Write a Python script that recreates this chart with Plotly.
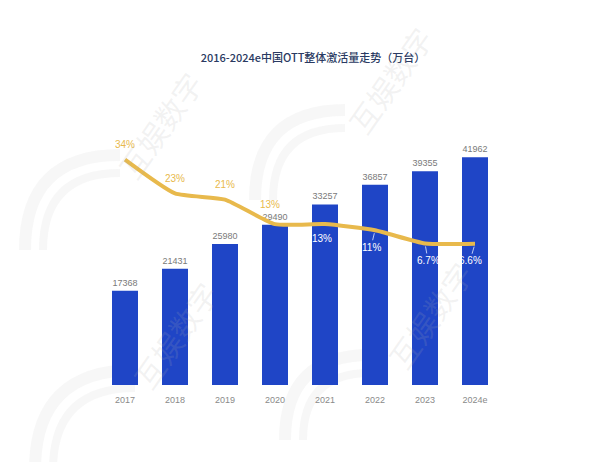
import plotly.graph_objects as go

# Activated OTT devices in China (10k units) and year-over-year growth
years = ["2017", "2018", "2019", "2020", "2021", "2022", "2023", "2024e"]
volumes = [17368, 21431, 25980, 29490, 33257, 36857, 39355, 41962]
growth = [34, 23, 21, 13, 13, 11, 6.7, 6.6]
growth_labels = ["34%", "23%", "21%", "13%", "13%", "11%", "6.7%", "6.6%"]

bar_color = "#1f45c6"
line_color = "#e8b94c"

W, H = 600, 462
L, R, T, B = 100, 100, 140, 77


def px_to_paper(px, py):
    return (px - L) / (W - L - R), (H - B - py) / (H - T - B)


fig = go.Figure()

fig.add_trace(go.Bar(
    x=years, y=volumes, width=0.52,
    marker=dict(color=bar_color, line=dict(width=0)),
    text=[str(v) for v in volumes], textposition="outside",
    textfont=dict(size=9, color="#7a7a7a", family="Liberation Sans Narrow, Liberation Sans"),
    cliponaxis=False, yaxis="y",
))

fig.add_trace(go.Scatter(
    x=years, y=growth, mode="lines",
    line=dict(color=line_color, width=4, shape="spline", smoothing=0.5),
    cliponaxis=False, yaxis="y2", hoverinfo="skip",
))

# growth labels: gold above the curve for early years, white with leaders inside later bars
# (category axis positions are given as the category index)
for i, (g, lab) in enumerate(zip(growth, growth_labels)):
    if i < 4:
        fig.add_annotation(
            x=i, y=g, xref="x", yref="y2", text=lab, showarrow=False,
            yshift=20 if i == 3 else 15, xshift=-5 if i == 3 else 0,
            font=dict(size=10, color=line_color, family="Liberation Sans Narrow, Liberation Sans"),
        )
    else:
        ax_off = [0, -4, 3, -5][i - 4]
        fig.add_annotation(
            x=i, y=g, xref="x", yref="y2", text=lab,
            showarrow=(i > 4), arrowhead=0, arrowwidth=0.8, arrowcolor="#e6ecff",
            ax=ax_off, ay=17, standoff=3,
            yshift=0 if i > 4 else -14, xshift=-3 if i == 4 else 0,
            font=dict(size=10, color="#ffffff", family="Liberation Sans Narrow, Liberation Sans"),
        )

# faint background brand marks: curved strokes plus rotated text
arc_specs = [(120, 250, 95), (345, 200, 90), (135, 470, 100), (370, 440, 85)]
for cx, cy, r in arc_specs:
    for k, rr in enumerate((r, r - 18)):
        x0, y0 = px_to_paper(cx - rr, cy)
        x1, y1 = px_to_paper(cx - rr, cy - rr)
        x2, y2 = px_to_paper(cx, cy - rr)
        fig.add_shape(
            type="path", xref="paper", yref="paper",
            path=f"M {x0:.4f},{y0:.4f} Q {x1:.4f},{y1:.4f} {x2:.4f},{y2:.4f}",
            line=dict(color="rgba(190,190,190,0.13)", width=12 - 4 * k),
            layer="below",
        )

for wx, wy in [(160, 125), (390, 80), (175, 335), (430, 315)]:
    px, py = px_to_paper(wx, wy)
    fig.add_annotation(
        text="互娱数字", xref="paper", yref="paper", x=px, y=py,
        xanchor="center", yanchor="middle",
        showarrow=False, textangle=-55,
        font=dict(size=30, color="rgba(175,175,175,0.16)", family="Noto Sans CJK SC"),
    )

fig.update_layout(
    width=W, height=H,
    margin=dict(l=L, r=R, t=T, b=B),
    paper_bgcolor="white", plot_bgcolor="white",
    showlegend=False,
    title=dict(
        text="2016-2024e中国OTT整体激活量走势（万台）",
        x=313 / W, xanchor="center", y=1 - 58 / H, yanchor="middle",
        font=dict(size=11, color="#2a3a62", family="Noto Sans CJK SC", weight=500),
    ),
    xaxis=dict(
        type="category", range=[-0.5, len(years) - 0.5],
        showline=False, showgrid=False, zeroline=False, ticks="",
        ticklabelstandoff=8,
        tickfont=dict(size=9, color="#8a8a8a", family="Liberation Sans Narrow, Liberation Sans"),
    ),
    yaxis=dict(range=[0, 45120], visible=False, showgrid=False, zeroline=False),
    yaxis2=dict(range=[-39.4, 40.4], overlaying="y", side="right",
                visible=False, showgrid=False, zeroline=False),
)

fig.write_html("out.html")
